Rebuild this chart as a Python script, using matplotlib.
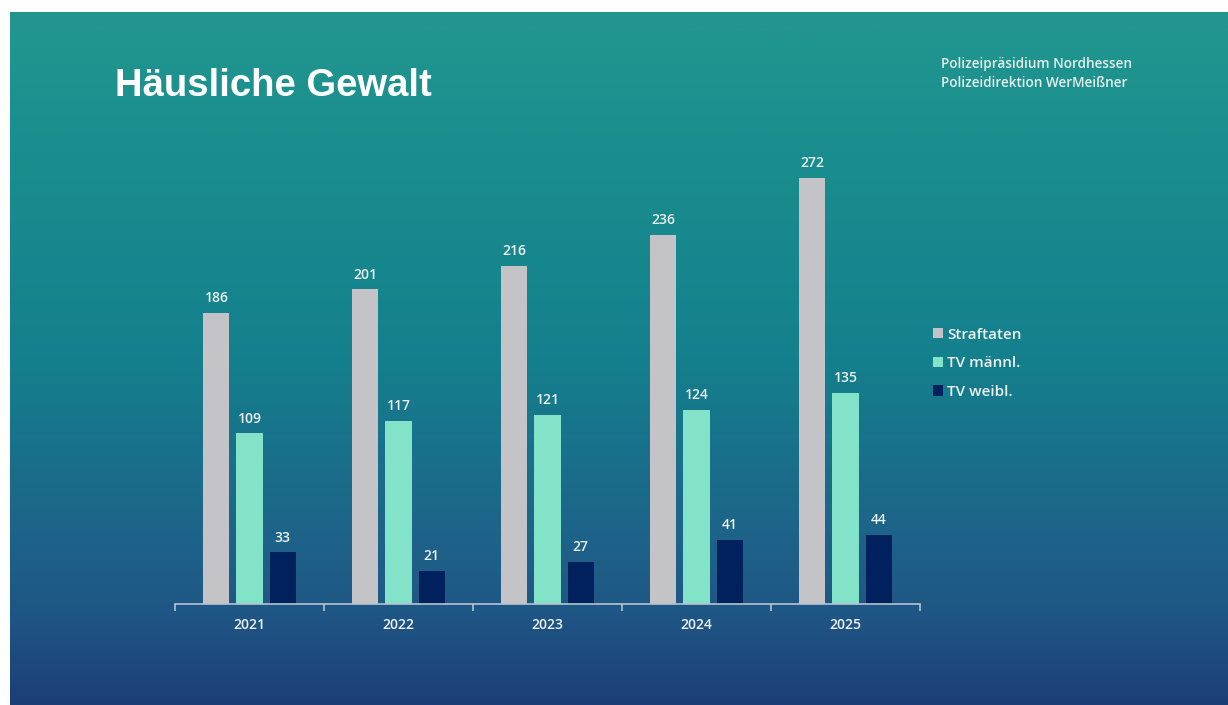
import numpy as np
import matplotlib
matplotlib.use('Agg')
import matplotlib.pyplot as plt
from matplotlib.colors import LinearSegmentedColormap

# Daten
jahre = ['2021', '2022', '2023', '2024', '2025']
straftaten = [186, 201, 216, 236, 272]
tv_maennl = [109, 117, 121, 124, 135]
tv_weibl = [33, 21, 27, 41, 44]
serien = ['Straftaten', 'TV männl.', 'TV weibl.']
farben = ['#C3C3C8', '#82E3C9', '#00215E']

W, H = 1228, 705
fig = plt.figure(figsize=(W / 100, H / 100), dpi=100)
fig.patch.set_facecolor('white')

# Hintergrund mit Farbverlauf
bg = fig.add_axes([10 / W, 0, 1 - 10 / W, 1 - 12 / H])
verlauf = LinearSegmentedColormap.from_list(
    'bg', [(0.0, '#22968E'), (0.2, '#1A8E8E'), (0.5, '#14808D'),
           (0.75, '#1D6489'), (0.87, '#1F5685'), (1.0, '#1C3E78')])
bg.imshow(np.linspace(0, 1, 256).reshape(-1, 1), aspect='auto', cmap=verlauf,
          extent=[0, 1, 0, 1])
bg.set_axis_off()

# Diagramm
ax = fig.add_axes([175 / W, (H - 604) / H, 745 / W, 454 / H])
ax.patch.set_alpha(0)
x = np.arange(len(jahre))
breite = 0.175
abstand = 0.222
for i, (werte, name, farbe) in enumerate(zip([straftaten, tv_maennl, tv_weibl], serien, farben)):
    pos = x + (i - 1) * abstand
    bars = ax.bar(pos, werte, width=breite, color=farbe, label=name, zorder=2)
    for b, v in zip(bars, werte):
        ax.text(b.get_x() + b.get_width() / 2, v + 5, str(v), ha='center', va='bottom',
                color='#EEF2F2', fontsize=10, fontweight='semibold', family='Open Sans')

ax.set_xlim(-0.5, len(jahre) - 0.5)
ax.set_ylim(0, 290)
ax.set_yticks([])
for s in ['top', 'right', 'left']:
    ax.spines[s].set_visible(False)
ax.spines['bottom'].set_color('#B8C4CC')
ax.spines['bottom'].set_linewidth(1.2)
ax.set_xticks(x)
ax.set_xticklabels(jahre, color='#EEF2F2', fontsize=10, fontweight='semibold', family='Open Sans')
ax.tick_params(axis='x', length=0, pad=10)
ax.set_xticks(np.arange(-0.5, len(jahre)), minor=True)
ax.tick_params(axis='x', which='minor', length=5, color='#B8C4CC', width=1.2)

leg = fig.legend(loc='upper left', bbox_to_anchor=(919 / W, 1 - 314 / H), frameon=False,
                 prop={'family': 'Open Sans', 'size': 11, 'weight': 'semibold'},
                 handlelength=0.65, handleheight=0.65,
                 handletextpad=0.3, labelspacing=0.95, labelcolor='#EEF2F2')

# Titel und Kopfzeile
fig.text(115 / W, 1 - 86 / H, 'Häusliche Gewalt', fontsize=27.5, fontweight='bold',
         color='white', family='Liberation Sans', va='center', ha='left')
fig.text(941 / W, 1 - 64 / H, 'Polizeipräsidium Nordhessen', fontsize=9.8, fontweight='semibold',
         color='#E4F0EE', family='Open Sans', va='center', ha='left')
fig.text(941 / W, 1 - 83 / H, 'Polizeidirektion WerMeißner', fontsize=9.8, fontweight='semibold',
         color='#E4F0EE', family='Open Sans', va='center', ha='left')

fig.savefig('out.png', dpi=100)
